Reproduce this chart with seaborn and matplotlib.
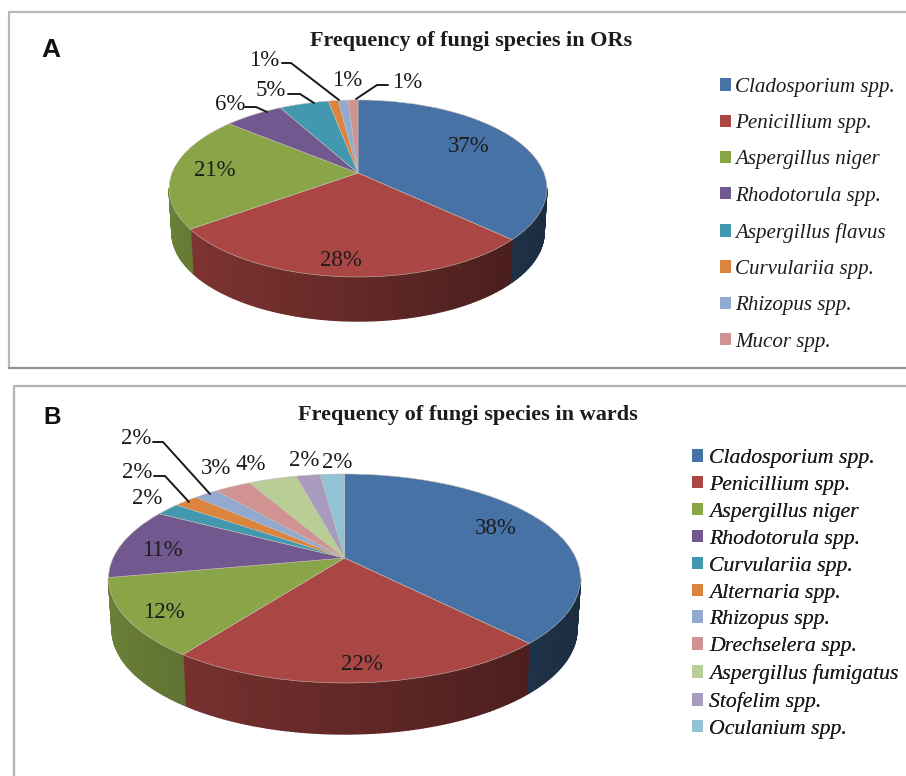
import numpy as np
import seaborn as sns
import matplotlib
matplotlib.use("Agg")
import matplotlib.pyplot as plt
import matplotlib.patches as mpatches
import matplotlib.transforms as mtransforms

# Survey results: share of each fungal genus, in percent
or_species = ["Cladosporium spp.", "Penicillium spp.", "Aspergillus niger", "Rhodotorula spp.",
              "Aspergillus flavus", "Curvulariia spp.", "Rhizopus spp.", "Mucor spp."]
or_values = [37, 28, 21, 6, 5, 1, 1, 1]

ward_species = ["Cladosporium spp.", "Penicillium spp.", "Aspergillus niger", "Rhodotorula spp.",
                "Curvulariia spp.", "Alternaria spp.", "Rhizopus spp.", "Drechselera spp.",
                "Aspergillus fumigatus", "Stofelim spp.", "Oculanium spp."]
ward_values = [38, 22, 12, 11, 2, 2, 2, 3, 4, 2, 2]

or_palette = ["#4672A6", "#AA4643", "#8AA548", "#71588F", "#4198AF", "#DB843D", "#93A9CF", "#D19392"]
ward_palette = ["#4672A6", "#AA4643", "#8AA548", "#71588F", "#4198AF", "#DB843D", "#93A9CF",
                "#D19392", "#B9CD96", "#A99BBD", "#91C3D5"]

sns.set_theme(style="white")
plt.rcParams["font.family"] = ["Liberation Serif", "DejaVu Serif"]
TEXT = "#1c1c1c"


class DiscProjection(mtransforms.Transform):
    """Perspective view of a flat unit disc, giving canvas pixel coordinates."""
    input_dims = 2
    output_dims = 2
    is_separable = False

    def __init__(self, cx, cy, sx, sy, k, drop=0.0, shrink=1.0):
        super().__init__()
        self.p = (cx, cy, sx, sy, k, drop, shrink)

    def transform_non_affine(self, values):
        cx, cy, sx, sy, k, drop, shrink = self.p
        values = np.asarray(values, dtype=float)
        w = 1 + k * values[:, 1]
        x = cx + shrink * sx * values[:, 0] / w
        y = cy - sy * values[:, 1] / w + drop
        return np.column_stack([x, y])


def wall_shade(u):
    return 0.58 - 0.20 * u


def draw_pie(ax, values, colors, cx, cy, sx, sy, k, depth, shrink):
    top = DiscProjection(cx, cy, sx, sy, k)
    bottom = DiscProjection(cx, cy, sx, sy, k, drop=depth, shrink=shrink)
    wedges, _ = ax.pie(values, colors=colors, startangle=90, counterclock=False, radius=1,
                       wedgeprops=dict(linewidth=0.4, edgecolor="#c4bdb2"))
    # The wall is visible between the two silhouette points of the projected disc
    rim = np.degrees(np.arcsin(k))
    for wedge, color in zip(wedges, colors):
        wedge.set_transform(top + ax.transData)
        wedge.set_zorder(3)
        start = wedge.theta1
        stop = wedge.theta2
        if stop <= 0:
            start, stop = start + 360, stop + 360
        elif start < 0:
            start = 0.0 if stop > 0 and start + 360 > 360 - rim else start + 360
            stop = 360 if start > 0 else stop
        lo = max(start, 180 + rim)
        hi = min(stop, 360 - rim)
        if lo >= hi:
            continue
        edges = np.radians(np.linspace(lo, hi, max(int(hi - lo), 2) + 1))
        rgb = np.array(color)
        for a, b in zip(edges[:-1], edges[1:]):
            ring = np.array([[np.cos(a), np.sin(a)], [np.cos(b), np.sin(b)]])
            upper = top.transform_non_affine(ring)
            lower = bottom.transform_non_affine(ring)
            quad = np.vstack([upper, lower[::-1]])
            shade = tuple(rgb * wall_shade(np.cos((a + b) / 2)))
            ax.fill(quad[:, 0], quad[:, 1], color=shade, lw=1.0, zorder=2)


def draw_legend(ax, names, colors, x, y, size, spacing, pad):
    handles = [mpatches.Patch(facecolor=c, edgecolor="none", label=n) for n, c in zip(names, colors)]
    legend = ax.legend(handles=handles, loc="upper left", bbox_to_anchor=(x, y),
                       bbox_transform=ax.transData, frameon=False, borderpad=0, borderaxespad=0,
                       handlelength=8.0 / size, handleheight=8.0 / size, handletextpad=pad,
                       labelspacing=spacing, labelcolor=TEXT,
                       prop=dict(family="Liberation Serif", style="italic", size=size))
    ax.add_artist(legend)


fig = plt.figure(figsize=(9.06, 7.76), dpi=100, facecolor="white")
ax = fig.add_axes([0, 0, 1, 1])

draw_pie(ax, or_values, sns.color_palette(or_palette), 358, 173, 186, 85.8, 0.175, 44, 0.985)
draw_pie(ax, ward_values, sns.color_palette(ward_palette), 344.5, 558, 231.4, 100.5, 0.196, 51, 0.985)

ax.set_aspect("auto")
ax.set_xlim(0, 906)
ax.set_ylim(776, 0)
ax.set_axis_off()

# Panel frames
ax.plot([906, 8.5, 8.5], [11.5, 11.5, 368], color="#b8b8b8", lw=1.6, zorder=1)
ax.plot([8.5, 906], [368, 368], color="#949494", lw=1.6, zorder=1)
ax.plot([906, 13.5, 13.5], [386, 386, 776], color="#b4b4b4", lw=1.6, zorder=1)

# Panel titles and letters
ax.text(471, 41, "Frequency of fungi species in ORs", ha="center", va="center",
        fontsize=15.9, fontweight="bold", color=TEXT)
ax.text(467.5, 415, "Frequency of fungi species in wards", ha="center", va="center",
        fontsize=16, fontweight="bold", color=TEXT)
ax.text(51, 50, "A", ha="center", va="center", fontsize=19, fontweight="bold",
        family="Liberation Sans", color="#111111")
ax.text(52, 418, "B", ha="center", va="center", fontsize=17.5, fontweight="bold",
        family="Liberation Sans", color="#111111")

# Percentage labels, one per slice in legend order
or_label_xy = [(469, 147), (341, 260), (215, 170), (230, 104), (270.5, 91),
               (264, 61), (347, 80), (407, 82)]
ward_label_xy = [(496, 528), (362, 665), (164, 613), (162, 550), (147, 499), (137, 473),
                 (136, 439), (216, 469), (251, 464), (304, 460), (337.5, 462)]
for values, spots in ((or_values, or_label_xy), (ward_values, ward_label_xy)):
    for value, (x, y) in zip(values, spots):
        ax.text(x, y, f"{value}%", ha="center", va="center", fontsize=16.5, color=TEXT, zorder=5)

# Leader lines for the small slices
leaders = [
    [(245, 107), (256, 107), (267, 112)],
    [(288, 94), (300, 94), (314, 103)],
    [(282, 63), (291, 63), (339, 100)],
    [(388, 85), (377, 85), (356, 99)],
    [(153, 442), (163, 442), (210, 494)],
    [(154, 476), (165, 476), (189, 502)],
]
for path in leaders:
    xs, ys = zip(*path)
    ax.plot(xs, ys, color="#1a1a1a", lw=1.4, zorder=5)

draw_legend(ax, or_species, sns.color_palette(or_palette), 720, 78, 15.1, 0.822, 0.19)
draw_legend(ax, ward_species, sns.color_palette(ward_palette), 692, 449, 15.7, 0.362, 0.27)

fig.savefig("out.png", dpi=100, facecolor="white")
